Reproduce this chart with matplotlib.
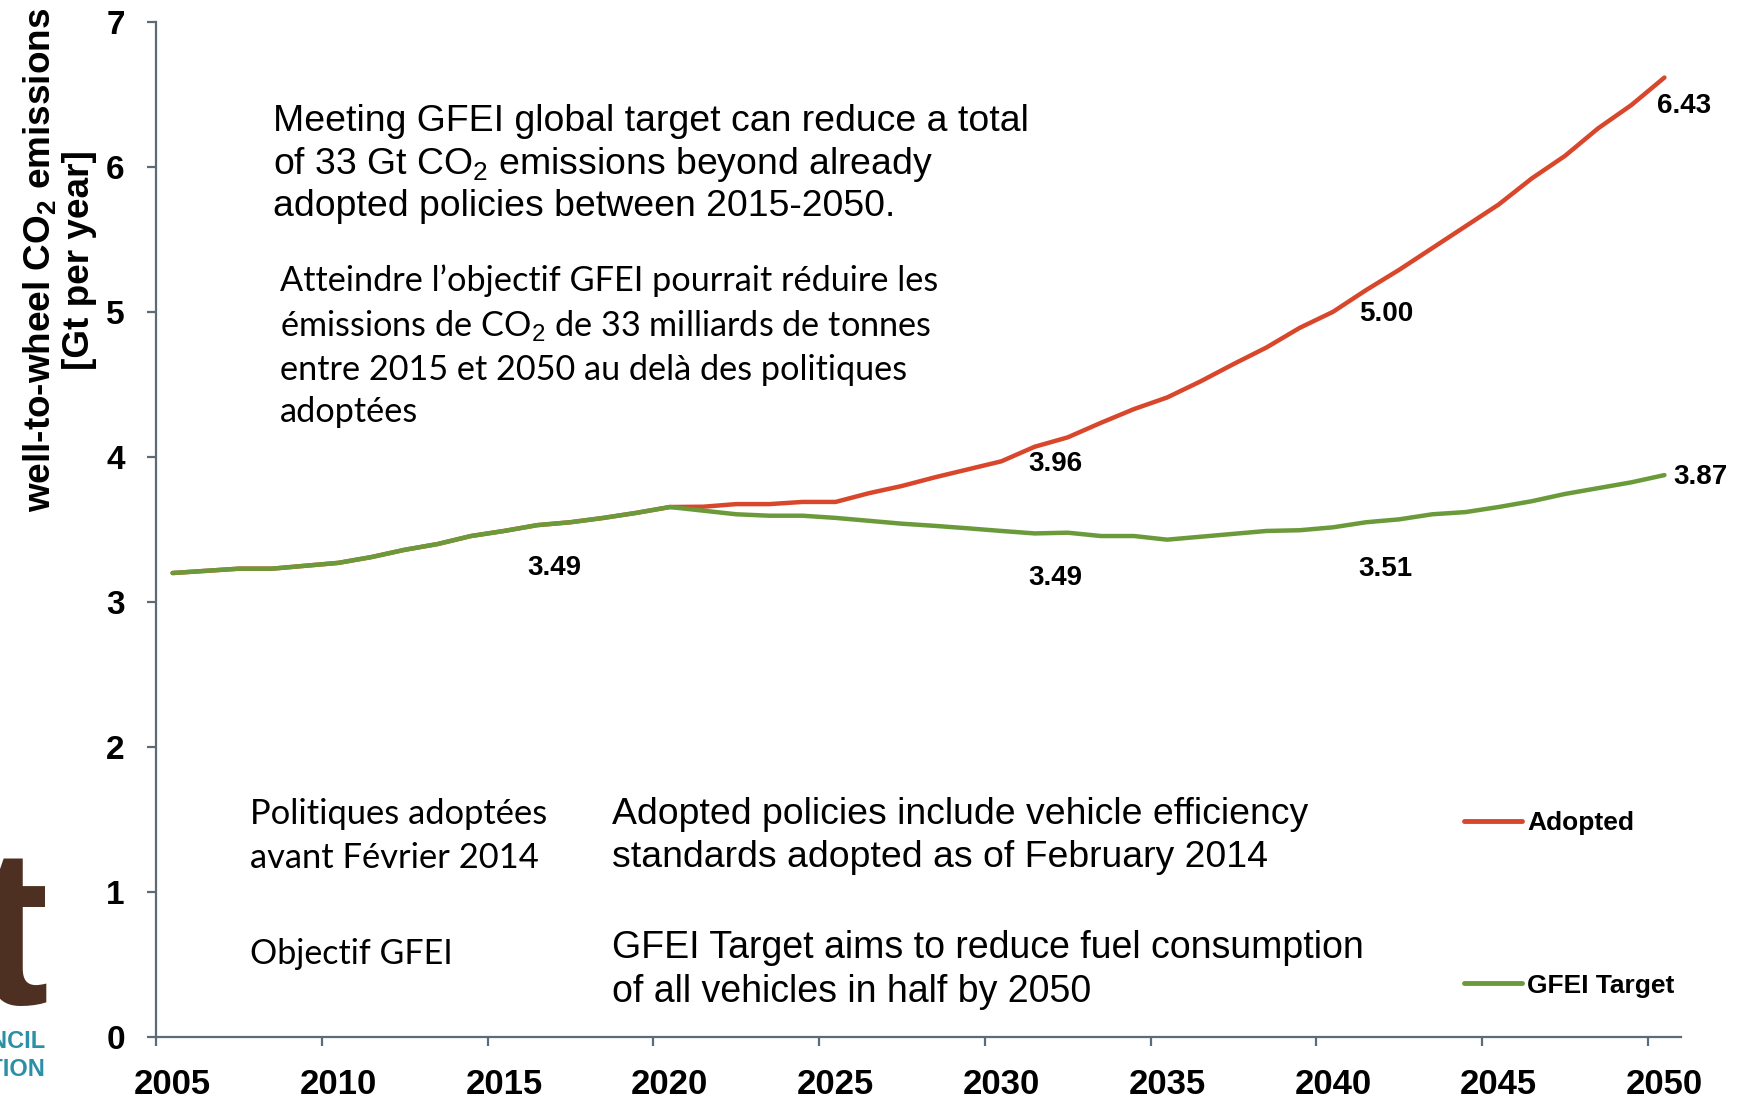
import numpy as np
import matplotlib
matplotlib.use('Agg')
import matplotlib.pyplot as plt
from matplotlib.lines import Line2D

# well-to-wheel CO2, Gt per year
years = list(range(2005, 2051))
adopted = [3.20, 3.215, 3.23, 3.23, 3.25, 3.27, 3.31, 3.36, 3.40, 3.455,
           3.49, 3.53, 3.55, 3.58, 3.615, 3.655, 3.657, 3.675, 3.675, 3.69,
           3.69, 3.75, 3.80, 3.86, 3.915, 3.97, 4.07, 4.135, 4.235, 4.33,
           4.41, 4.52, 4.64, 4.755, 4.89, 5.00, 5.15, 5.29, 5.44, 5.59,
           5.74, 5.92, 6.075, 6.265, 6.425, 6.615]
gfei_target = [3.20, 3.215, 3.23, 3.23, 3.25, 3.27, 3.31, 3.36, 3.40, 3.455,
               3.49, 3.53, 3.55, 3.58, 3.615, 3.655, 3.63, 3.605, 3.595, 3.595,
               3.58, 3.56, 3.54, 3.525, 3.508, 3.49, 3.473, 3.478, 3.455, 3.455,
               3.43, 3.45, 3.47, 3.49, 3.495, 3.515, 3.55, 3.57, 3.605, 3.62,
               3.655, 3.695, 3.745, 3.785, 3.825, 3.875]
xtick_labels = ['2005', '2010', '2015', '2020', '2025', '2030', '2035', '2040', '2045', '2050']
ytick_values = [0, 1, 2, 3, 4, 5, 6, 7]

adopted_callout_years = [2030, 2040, 2050]
adopted_callout_text = ['3.96', '5.00', '6.43']
target_callout_years = [2015, 2030, 2040, 2050]
target_callout_text = ['3.49', '3.49', '3.51', '3.87']

RED = '#d8472b'
GREEN = '#6b9a3a'
AXIS = '#5b6b78'
W, H = 1737, 1098

plt.rcParams['font.family'] = ['Liberation Sans', 'DejaVu Sans']
plt.rcParams['mathtext.fontset'] = 'custom'
plt.rcParams['mathtext.rm'] = 'Liberation Sans'
plt.rcParams['mathtext.bf'] = 'Liberation Sans:bold'

fig = plt.figure(figsize=(W / 100, H / 100), dpi=100)
ax = fig.add_axes([156 / W, 1 - 1037.3 / H, (1681 - 156) / W, (1037.3 - 21.7) / H])


def fx(px):
    return px / W


def fy(py):
    return 1 - py / H


ax.plot(years, adopted, color=RED, lw=3.2, solid_capstyle='round', solid_joinstyle='round')
ax.plot(years, gfei_target, color=GREEN, lw=3.2, solid_capstyle='round', solid_joinstyle='round')

ax.set_xlim(2004.5, 2050.5)
ax.set_ylim(0, 7)
for s in ['top', 'right']:
    ax.spines[s].set_visible(False)
for s in ['left', 'bottom']:
    ax.spines[s].set_color(AXIS)
    ax.spines[s].set_linewidth(1.6)

label_pos = [int(t) for t in xtick_labels]
ax.set_xticks([p - 0.5 for p in label_pos])
ax.set_xticklabels([])
ax.set_xticks(label_pos, minor=True)
ax.set_xticklabels(xtick_labels, minor=True, fontsize=25, fontweight='bold')
ax.tick_params(axis='x', which='major', direction='out', length=6.5, width=1.6, color=AXIS)
ax.tick_params(axis='x', which='minor', length=0, pad=22)
ax.set_yticks(ytick_values)
ax.set_yticklabels([str(v) for v in ytick_values], fontsize=24, fontweight='bold')
ax.tick_params(axis='y', direction='out', length=6.5, width=1.6, color=AXIS, pad=16)

ax.set_ylabel('well-to-wheel CO$_\\mathbf{2}$ emissions\n[Gt per year]', fontsize=26.6,
              fontweight='bold', linespacing=1.1)
ax.yaxis.set_label_coords(-0.039, 0.765)

# value callouts
for yr, txt, dx, dy in zip(adopted_callout_years, adopted_callout_text,
                           [54, 53, 20], [-3, -2, -28]):
    ax.annotate(txt, (yr, adopted[years.index(yr)]), xytext=(dx, dy), textcoords='offset pixels',
                ha='center', va='center', fontsize=20, fontweight='bold')
for yr, txt, dx, dy in zip(target_callout_years, target_callout_text,
                           [50, 54, 53, 36], [-37, -47, -42, -2]):
    ax.annotate(txt, (yr, gfei_target[years.index(yr)]), xytext=(dx, dy), textcoords='offset pixels',
                ha='center', va='center', fontsize=20, fontweight='bold')

# text boxes
fig.text(fx(273), fy(164), 'Meeting GFEI global target can reduce a total\n'
         'of 33 Gt CO$_\\mathrm{2}$ emissions beyond already\n'
         'adopted policies between 2015-2050.', fontsize=26.9, va='center', ha='left',
         linespacing=1.21)
fig.text(fx(280), fy(346), 'Atteindre l\u2019objectif GFEI pourrait réduire les\n'
         'émissions de CO$_\\mathrm{2}$ de 33 milliards de tonnes\n'
         'entre 2015 et 2050 au delà des politiques\nadoptées', family='Lato',
         fontsize=24.7, va='center', ha='left', linespacing=1.39)
fig.text(fx(250), fy(836), 'Politiques adoptées\navant Février 2014', family='Lato',
         fontsize=24.8, va='center', ha='left', linespacing=1.44)
fig.text(fx(250), fy(954), 'Objectif GFEI', family='Lato', fontsize=24.5, va='center', ha='left')
fig.text(fx(611.5), fy(836), 'Adopted policies include vehicle efficiency\n'
         'standards adopted as of February 2014', fontsize=26.9, va='center', ha='left',
         linespacing=1.27)
fig.text(fx(611.5), fy(970), 'GFEI Target aims to reduce fuel consumption\n'
         'of all vehicles in half by 2050', fontsize=27, va='center', ha='left',
         linespacing=1.27)

handles = [Line2D([], [], color=RED, lw=3.5, solid_capstyle='round'),
           Line2D([], [], color=GREEN, lw=3.5, solid_capstyle='round')]
ax.legend(handles, ['Adopted', 'GFEI Target'], loc='upper left',
          bbox_to_anchor=(fx(1464), fy(811)), bbox_transform=fig.transFigure,
          frameon=False, handlelength=2.2, handletextpad=0.2, labelspacing=5.25,
          borderpad=0, borderaxespad=0, prop={'size': 19, 'weight': 'bold'})

# partial logo at the left edge
fig.text(fx(48), fy(1004), 't', fontsize=160, fontweight='bold', color='#4e3023',
         ha='right', va='baseline')
fig.text(fx(45), fy(1042), 'INTERNATIONAL COUNCIL', fontsize=17, fontweight='bold',
         color='#2b8fa6', ha='right', va='center')
fig.text(fx(45), fy(1069), 'ON CLEAN TRANSPORTATION', fontsize=17, fontweight='bold',
         color='#2b8fa6', ha='right', va='center')

fig.savefig('out.png', dpi=100)
